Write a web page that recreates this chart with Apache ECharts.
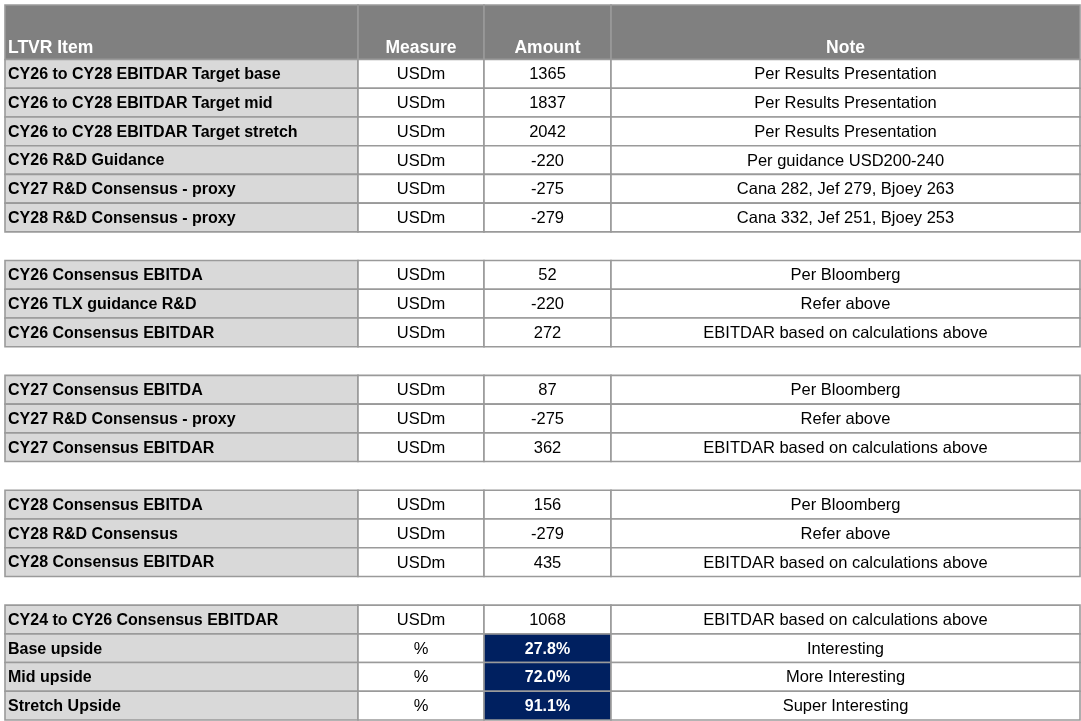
<!DOCTYPE html>
<html><head><meta charset="utf-8">
<script src="https://cdn.jsdelivr.net/npm/echarts@6/dist/echarts.min.js"></script>
<style>html,body{margin:0;padding:0;background:#fff}#c{width:1081px;height:721px}</style>
</head><body><div id="c"></div>
<script>
const headers = ['LTVR Item', 'Measure', 'Amount', 'Note'];
const items = ['CY26 to CY28 EBITDAR Target base','CY26 to CY28 EBITDAR Target mid','CY26 to CY28 EBITDAR Target stretch','CY26 R&D Guidance','CY27 R&D Consensus - proxy','CY28 R&D Consensus - proxy',null,
 'CY26 Consensus EBITDA','CY26 TLX guidance R&D','CY26 Consensus EBITDAR',null,
 'CY27 Consensus EBITDA','CY27 R&D Consensus - proxy','CY27 Consensus EBITDAR',null,
 'CY28 Consensus EBITDA','CY28 R&D Consensus','CY28 Consensus EBITDAR',null,
 'CY24 to CY26 Consensus EBITDAR','Base upside','Mid upside','Stretch Upside'];
const measures = ['USDm','USDm','USDm','USDm','USDm','USDm',null,'USDm','USDm','USDm',null,'USDm','USDm','USDm',null,'USDm','USDm','USDm',null,'USDm','%','%','%'];
const amounts = ['1365','1837','2042','-220','-275','-279',null,'52','-220','272',null,'87','-275','362',null,'156','-279','435',null,'1068','27.8%','72.0%','91.1%'];
const notes = ['Per Results Presentation','Per Results Presentation','Per Results Presentation','Per guidance USD200-240','Cana 282, Jef 279, Bjoey 263','Cana 332, Jef 251, Bjoey 253',null,
 'Per Bloomberg','Refer above','EBITDAR based on calculations above',null,
 'Per Bloomberg','Refer above','EBITDAR based on calculations above',null,
 'Per Bloomberg','Refer above','EBITDAR based on calculations above',null,
 'EBITDAR based on calculations above','Interesting','More Interesting','Super Interesting'];
const highlighted = [false,false,false,false,false,false,null,false,false,false,null,false,false,false,null,false,false,false,null,false,true,true,true];

const colEdges = [0, 353, 479, 606, 1075];
const cols = [items, measures, amounts, notes];
const data = [];
headers.forEach((h, c) => data.push({value: [c, -1], label: h, kind: 'head'}));
items.forEach((it, r) => {
  if (it === null) return;
  cols.forEach((arr, c) => data.push({value: [c, r], label: arr[r], kind: c === 0 ? 'item' : (c === 2 && highlighted[r] ? 'hi' : 'cell')}));
});

const chart = echarts.init(document.getElementById('c'), null, {renderer: 'canvas'});
chart.setOption({
  animation: false,
  grid: {left: 5, right: 1, top: 5, bottom: 1},
  xAxis: {type: 'value', min: 0, max: 1075, show: false},
  yAxis: {type: 'value', min: -1.9, max: 23, inverse: true, show: false},
  series: [{
    type: 'custom',
    data: data,
    renderItem: function (params, api) {
      const d = data[params.dataIndex];
      const c = d.value[0], r = d.value[1];
      const top = r < 0 ? -1.9 : r, bot = r < 0 ? 0 : r + 1;
      const p1 = api.coord([colEdges[c], top]);
      const p2 = api.coord([colEdges[c + 1], bot]);
      const x = p1[0], y = p1[1], w = p2[0] - p1[0], h = p2[1] - p1[1];
      let fill = '#ffffff', color = '#000', weight = 'normal', size = 16.5;
      if (d.kind === 'head') { fill = '#808080'; color = '#fff'; weight = 'bold'; size = 17.5; }
      else if (d.kind === 'item') { fill = '#d9d9d9'; weight = 'bold'; size = 16; }
      else if (d.kind === 'hi') { fill = '#002060'; color = '#fff'; weight = 'bold'; size = 16; }
      const left = c === 0;
      return {
        type: 'group',
        children: [
          {type: 'rect', shape: {x: x, y: y, width: w, height: h},
           style: {fill: fill, stroke: '#9a9a9a', lineWidth: 1.6}},
          {type: 'text', style: {
            text: d.label, x: left ? x + 3 : x + w / 2, y: d.kind === 'head' ? y + h - 2 : y + h / 2 + 1,
            align: left ? 'left' : 'center', verticalAlign: d.kind === 'head' ? 'bottom' : 'middle',
            fill: color, fontWeight: weight, fontSize: size, fontFamily: 'Liberation Sans, Arial, sans-serif'}}
        ]
      };
    }
  }]
});
</script></body></html>
